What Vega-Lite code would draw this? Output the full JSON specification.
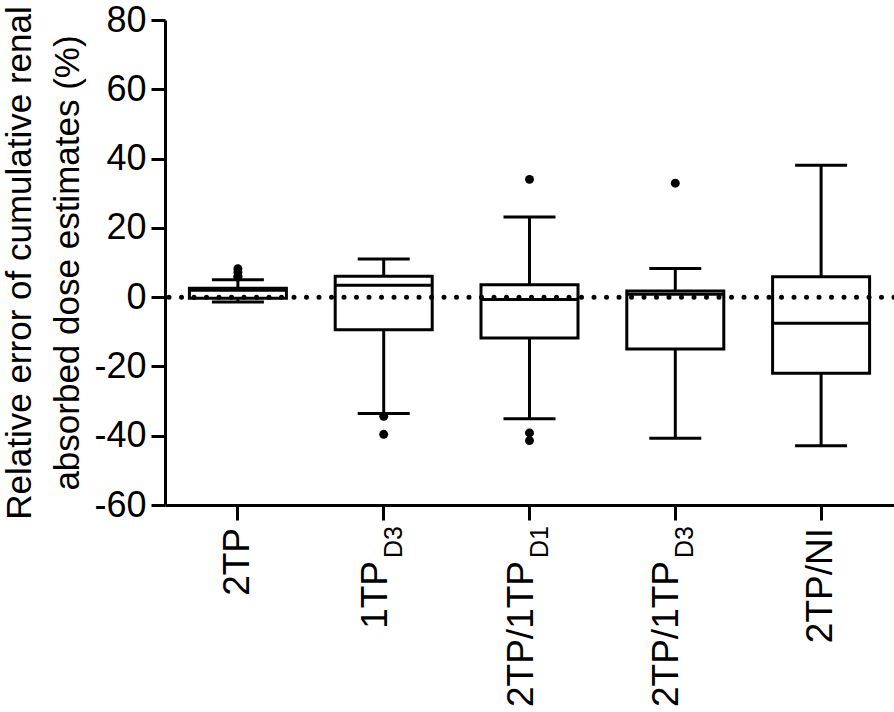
{
  "$schema": "https://vega.github.io/schema/vega-lite/v6.json",
  "width": 729,
  "height": 485,
  "autosize": {"type": "none"},
  "padding": {"left": 165, "top": 20, "right": 0, "bottom": 207},
  "background": "white",
  "config": {"view": {"stroke": null}, "font": "Liberation Sans"},
  "datasets": {
    "boxes": [
      {"group": "2TP", "lower": -1.4, "q1": -0.3, "median": 2.0, "q3": 2.6, "upper": 5.0},
      {"group": "1TP_D3", "lower": -33.6, "q1": -9.4, "median": 3.4, "q3": 6.0, "upper": 11.0},
      {"group": "2TP/1TP_D1", "lower": -35.1, "q1": -11.8, "median": -0.7, "q3": 3.6, "upper": 23.1},
      {"group": "2TP/1TP_D3", "lower": -40.7, "q1": -15.0, "median": 0.8, "q3": 1.8, "upper": 8.3},
      {"group": "2TP/NI", "lower": -42.9, "q1": -22.0, "median": -7.5, "q3": 5.9, "upper": 38.1}
    ],
    "outliers": [
      {"group": "2TP", "value": 7.2},
      {"group": "2TP", "value": 6.0},
      {"group": "2TP", "value": 5.8},
      {"group": "2TP", "value": 8.2},
      {"group": "1TP_D3", "value": -34.4},
      {"group": "1TP_D3", "value": -39.6},
      {"group": "2TP/1TP_D1", "value": 34.0},
      {"group": "2TP/1TP_D1", "value": -39.2},
      {"group": "2TP/1TP_D1", "value": -41.4},
      {"group": "2TP/1TP_D3", "value": 32.9}
    ],
    "labels": [
      {"group": "2TP", "main": "2TP", "sub": ""},
      {"group": "1TP_D3", "main": "1TP", "sub": "D3"},
      {"group": "2TP/1TP_D1", "main": "2TP/1TP", "sub": "D1"},
      {"group": "2TP/1TP_D3", "main": "2TP/1TP", "sub": "D3"},
      {"group": "2TP/NI", "main": "2TP/NI", "sub": ""}
    ],
    "zero": [{"ref": 0}]
  },
  "layer": [
    {
      "data": {"name": "boxes"},
      "mark": {"type": "rule", "strokeWidth": 3, "color": "black"},
      "encoding": {
        "x": {
          "field": "group", "type": "nominal",
          "scale": {"domain": ["2TP", "1TP_D3", "2TP/1TP_D1", "2TP/1TP_D3", "2TP/NI"], "paddingInner": 0, "paddingOuter": 0},
          "axis": {"labels": false, "title": null, "ticks": true, "tickSize": 15, "tickWidth": 3, "tickColor": "black", "domain": true, "domainWidth": 3, "domainColor": "black", "grid": false}
        },
        "y": {
          "field": "lower", "type": "quantitative",
          "scale": {"domain": [-60, 80], "nice": false, "zero": false},
          "axis": {
            "values": [-60, -40, -20, 0, 20, 40, 60, 80],
            "labelExpr": "replace(datum.label, '\u2212', '-')",
            "grid": false, "tickSize": 14, "tickWidth": 3, "tickColor": "black",
            "domain": true, "domainWidth": 3, "domainColor": "black",
            "labelFontSize": 36, "labelColor": "black", "labelPadding": 5, "labelFont": "Liberation Sans",
            "title": ["Relative error of cumulative renal", "absorbed dose estimates (%)"],
            "titleFontSize": 35, "titleFontWeight": "normal", "titleColor": "black", "titleFont": "Liberation Sans",
            "titleLineHeight": 48, "titlePadding": 8
          }
        },
        "y2": {"field": "upper"}
      }
    },
    {
      "data": {"name": "boxes"},
      "mark": {"type": "tick", "size": 52, "thickness": 3, "color": "black", "opacity": 1},
      "encoding": {
        "x": {"field": "group", "type": "nominal"},
        "y": {"field": "lower", "type": "quantitative"}
      }
    },
    {
      "data": {"name": "boxes"},
      "mark": {"type": "tick", "size": 52, "thickness": 3, "color": "black", "opacity": 1},
      "encoding": {
        "x": {"field": "group", "type": "nominal"},
        "y": {"field": "upper", "type": "quantitative"}
      }
    },
    {
      "data": {"name": "boxes"},
      "mark": {"type": "bar", "size": 97, "fill": "white", "stroke": "black", "strokeWidth": 3},
      "encoding": {
        "x": {"field": "group", "type": "nominal"},
        "y": {"field": "q1", "type": "quantitative"},
        "y2": {"field": "q3"}
      }
    },
    {
      "data": {"name": "boxes"},
      "mark": {"type": "tick", "size": 97, "thickness": 3, "color": "black", "opacity": 1},
      "encoding": {
        "x": {"field": "group", "type": "nominal"},
        "y": {"field": "median", "type": "quantitative"}
      }
    },
    {
      "data": {"name": "outliers"},
      "mark": {"type": "circle", "size": 80, "color": "black", "opacity": 1},
      "encoding": {
        "x": {"field": "group", "type": "nominal"},
        "y": {"field": "value", "type": "quantitative"}
      }
    },
    {
      "data": {"name": "zero"},
      "mark": {"type": "rule", "strokeDash": [0, 12.5], "strokeCap": "round", "strokeWidth": 5, "color": "black"},
      "encoding": {"y": {"field": "ref", "type": "quantitative"}}
    },
    {
      "data": {"name": "labels"},
      "transform": [{"filter": "datum.sub == ''"}],
      "mark": {"type": "text", "angle": 270, "align": "right", "baseline": "middle", "dx": -23, "dy": 0, "fontSize": 37, "font": "Liberation Sans", "color": "black"},
      "encoding": {
        "x": {"field": "group", "type": "nominal"},
        "y": {"datum": -60},
        "text": {"field": "main"}
      }
    },
    {
      "data": {"name": "labels"},
      "transform": [{"filter": "datum.sub != ''"}],
      "mark": {"type": "text", "angle": 270, "align": "right", "baseline": "middle", "dx": -56, "dy": -8, "fontSize": 37, "font": "Liberation Sans", "color": "black"},
      "encoding": {
        "x": {"field": "group", "type": "nominal"},
        "y": {"datum": -60},
        "text": {"field": "main"}
      }
    },
    {
      "data": {"name": "labels"},
      "transform": [{"filter": "datum.sub != ''"}],
      "mark": {"type": "text", "angle": 270, "align": "right", "baseline": "middle", "dx": -21, "dy": 10, "fontSize": 25, "font": "Liberation Sans", "color": "black"},
      "encoding": {
        "x": {"field": "group", "type": "nominal"},
        "y": {"datum": -60},
        "text": {"field": "sub"}
      }
    }
  ]
}
